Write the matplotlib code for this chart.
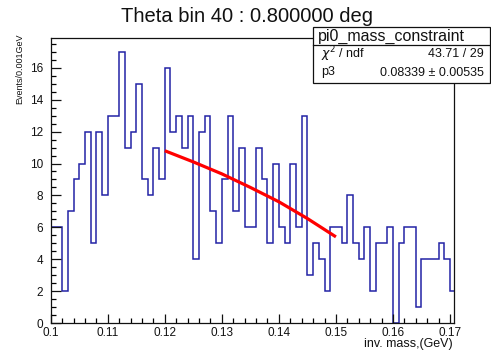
import numpy as np
import matplotlib
matplotlib.use("Agg")
import matplotlib.pyplot as plt
from matplotlib.ticker import MultipleLocator, FuncFormatter
from matplotlib.patches import Rectangle
from matplotlib.lines import Line2D

plt.rcParams['font.family'] = ['Liberation Sans', 'DejaVu Sans']

# ---- data ----
bin_low = 0.100
bin_width = 0.001
counts = [6, 6, 2, 7, 9, 10, 12, 5, 12, 8,
          13, 13, 17, 11, 12, 15, 9, 8, 11, 9,
          16, 12, 13, 11, 13, 4, 12, 13, 7, 5,
          9, 13, 7, 11, 6, 6, 11, 9, 5, 10,
          6, 5, 10, 6, 13, 3, 5, 4, 2, 6,
          6, 5, 8, 5, 4, 6, 2, 5, 5, 6,
          0, 5, 6, 6, 1, 4, 4, 4, 5, 4,
          2]
fit_x = [0.120, 0.125, 0.130, 0.135, 0.140, 0.145, 0.150]
fit_y = [10.8, 10.1, 9.35, 8.5, 7.6, 6.55, 5.4]

title = "Theta bin 40 : 0.800000 deg"
xlabel = "inv. mass,(GeV)"
ylabel = "Events/0.001GeV"
stats_name = "pi0_mass_constraint"
stats_rows = [(r"$\chi^{2}$ / ndf", "43.71 / 29"),
              ("p3", "0.08339 \u00b1 0.00535")]

W, H = 491, 351
fig = plt.figure(figsize=(W / 100, H / 100), dpi=100)
ax = fig.add_axes([50.7 / W, 1 - 323 / H, (454.3 - 50.7) / W, (323 - 38.3) / H])

edges = bin_low + bin_width * np.arange(len(counts) + 1)
ax.stairs(counts, edges, color='#2323a6', lw=1.1, baseline=0)
ax.plot(fit_x, fit_y, color='#ff0000', lw=2.3, solid_capstyle='butt')

ax.set_xlim(0.1, 0.17075)
ax.set_ylim(0, 17.85)

ax.xaxis.set_major_locator(MultipleLocator(0.01))
ax.xaxis.set_minor_locator(MultipleLocator(0.002))
ax.yaxis.set_major_locator(MultipleLocator(2))
ax.yaxis.set_minor_locator(MultipleLocator(0.5))
ax.xaxis.set_major_formatter(FuncFormatter(lambda v, p: "%g" % round(v, 3)))
ax.yaxis.set_major_formatter(FuncFormatter(lambda v, p: "%d" % round(v)))

ax.tick_params(axis='x', which='major', direction='in', length=6.5, width=0.9,
               labelsize=8.5, pad=3, top=False, colors='#111111')
ax.tick_params(axis='x', which='minor', direction='in', length=3.6, width=0.9, top=False)
ax.tick_params(axis='y', which='major', direction='in', length=7.2, width=0.9,
               labelsize=8.5, pad=5.5, right=False, colors='#111111')
ax.tick_params(axis='y', which='minor', direction='in', length=3.6, width=0.9, right=False)
for s in ax.spines.values():
    s.set_linewidth(0.9)
    s.set_color('#111111')

# title
fig.text(247.5 / W, 1 - 21.5 / H, title, ha='center', va='baseline', fontsize=14.5,
         color='#111111')
# axis titles
fig.text(453 / W, 1 - 344 / H, xlabel, ha='right', va='center', fontsize=9,
         color='#111111')
fig.text(20 / W, 1 - 33 / H, ylabel, ha='center', va='top', rotation=90,
         fontsize=6.5, color='#111111')

# stats box
bx0, bx1, by0, by1, bsep = 313, 490, 27.3, 83.3, 45
fig.patches.append(Rectangle((bx0 / W, 1 - by1 / H), (bx1 - bx0) / W, (by1 - by0) / H,
                             transform=fig.transFigure, facecolor='white',
                             edgecolor='#111111', lw=0.9, zorder=5))
fig.lines.append(Line2D([bx0 / W, bx1 / W], [1 - bsep / H, 1 - bsep / H],
                        transform=fig.transFigure, color='#111111', lw=0.9, zorder=6))
fig.text(318 / W, 1 - 36 / H, stats_name, ha='left', va='center', fontsize=11.5,
         color='#111111', zorder=7)
row_y = [54, 72.5]
for (lab, val), yy in zip(stats_rows, row_y):
    fig.text(321 / W, 1 - yy / H, lab, ha='left', va='center', fontsize=9,
             color='#111111', zorder=7)
    fig.text(484 / W, 1 - yy / H, val, ha='right', va='center', fontsize=9,
             color='#111111', zorder=7)

fig.savefig("out.png", dpi=100, facecolor='white')
